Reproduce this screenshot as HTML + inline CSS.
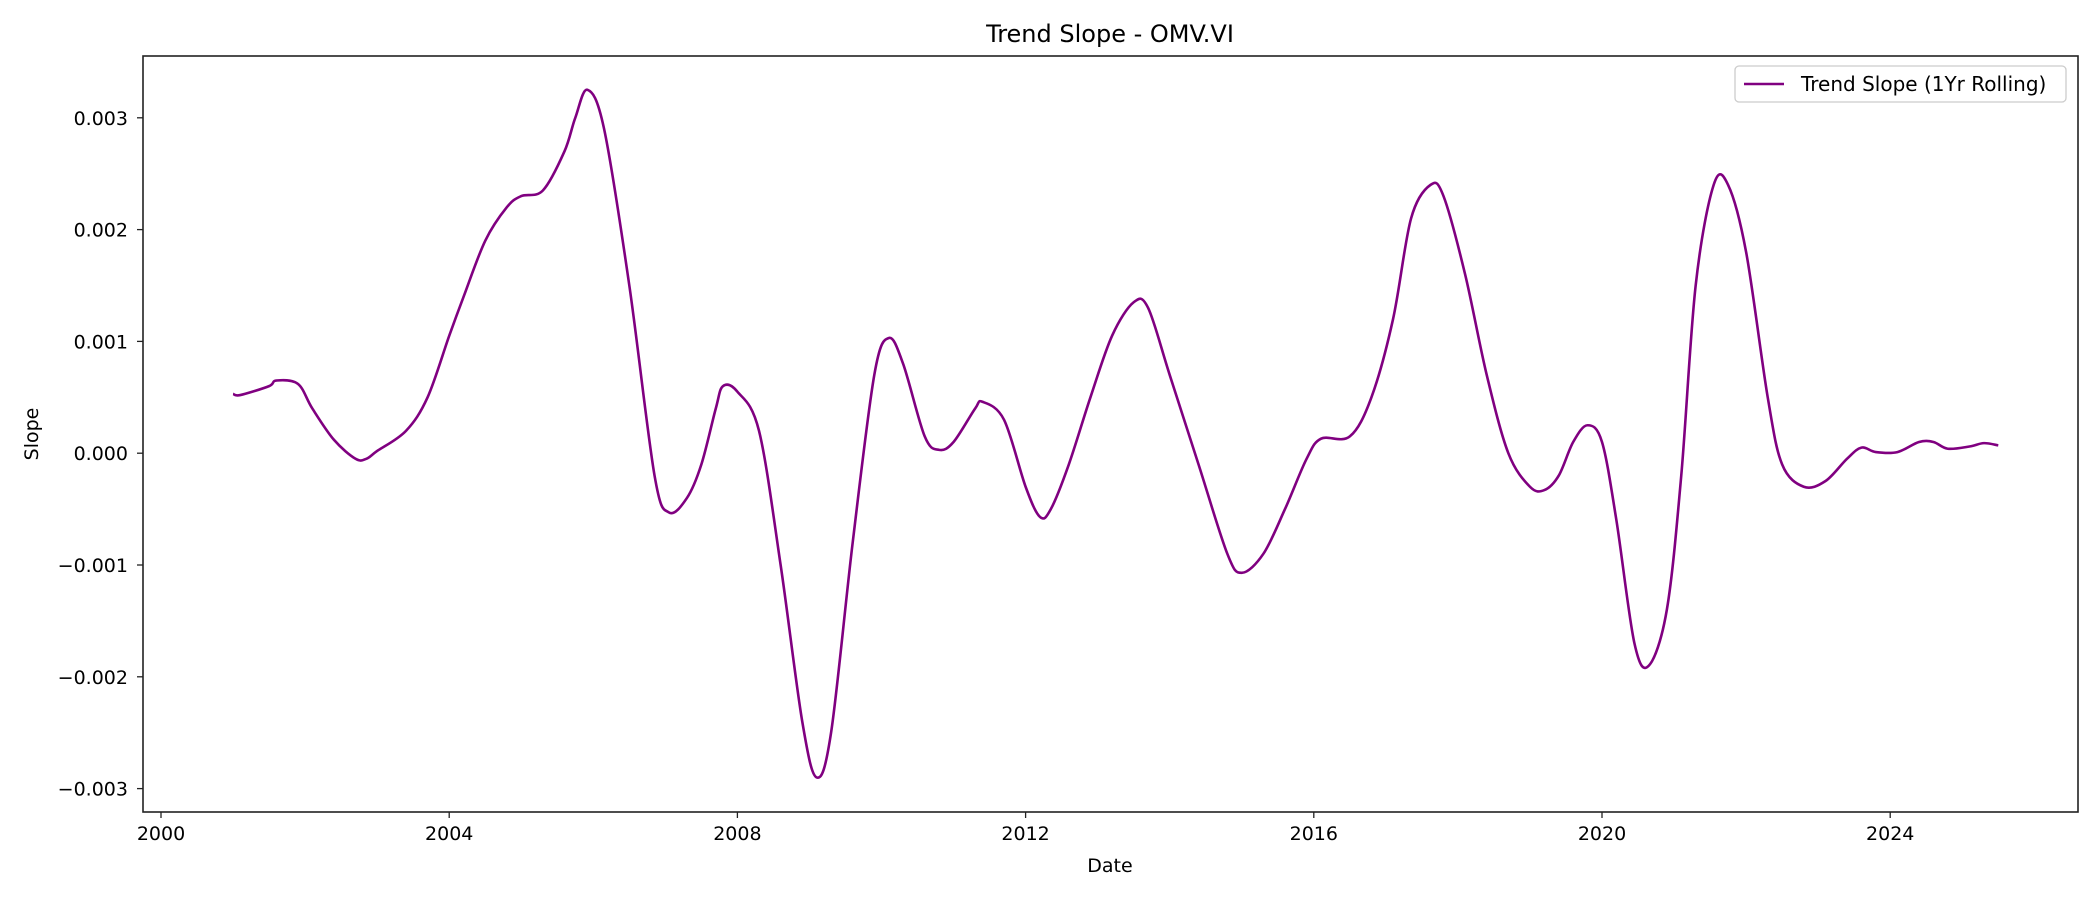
<!DOCTYPE html>
<html><head><meta charset="utf-8"><style>
body{margin:0;background:#fff;}
svg{display:block;font-family:"DejaVu Sans","Liberation Sans",sans-serif;}
</style></head><body>
<svg id="chart" width="2100" height="900" viewBox="0 0 2100 900">
<text x="1110" y="42" font-size="24" text-anchor="middle">Trend Slope - OMV.VI</text>
<g id="axes"></g>
<path id="line" fill="none" stroke="#800080" stroke-width="2.6"></path>
<rect x="143" y="56" width="1935" height="756" fill="none" stroke="#222" stroke-width="1.6"/>
<text x="1110" y="872" font-size="19" text-anchor="middle">Date</text>
<text x="38" y="434" font-size="19" text-anchor="middle" transform="rotate(-90 38 434)">Slope</text>
<g>
<rect x="1735" y="66" width="331" height="36" rx="4" fill="#fff" stroke="#ccc" stroke-width="1.3"/>
<line x1="1744" y1="84" x2="1784" y2="84" stroke="#800080" stroke-width="2.6"/>
<text x="1801" y="91" font-size="20">Trend Slope (1Yr Rolling)</text>
</g>
</svg>
<script>
const years=[2001.0,2001.1,2001.5,2001.6,2001.9,2002.1,2002.4,2002.7,2002.85,2003.0,2003.4,2003.7,2004.0,2004.2,2004.5,2004.8,2005.0,2005.3,2005.6,2005.75,2005.92,2006.15,2006.5,2006.85,2007.05,2007.3,2007.5,2007.7,2007.8,2008.0,2008.3,2008.6,2008.9,2009.1,2009.3,2009.6,2009.9,2010.1,2010.3,2010.6,2010.8,2011.0,2011.3,2011.4,2011.7,2012.0,2012.2,2012.35,2012.6,2012.9,2013.2,2013.5,2013.7,2014.0,2014.4,2014.8,2015.0,2015.3,2015.6,2015.9,2016.1,2016.5,2016.8,2017.1,2017.35,2017.62,2017.8,2018.1,2018.4,2018.7,2019.0,2019.2,2019.4,2019.6,2019.8,2020.0,2020.2,2020.45,2020.65,2020.9,2021.1,2021.3,2021.55,2021.75,2022.0,2022.3,2022.5,2022.8,2023.1,2023.4,2023.6,2023.8,2024.1,2024.4,2024.6,2024.8,2025.1,2025.3,2025.5];
const slopes=[0.00053,0.00052,0.0006,0.00065,0.00062,0.0004,0.00012,-0.00005,-0.00005,0.00002,0.0002,0.0005,0.00105,0.0014,0.0019,0.0022,0.0023,0.00235,0.0027,0.003,0.00325,0.0029,0.0015,-0.0002,-0.00053,-0.0004,-0.0001,0.0004,0.0006,0.00055,0.0002,-0.001,-0.0024,-0.0029,-0.0025,-0.0008,0.0007,0.00103,0.0008,0.00015,0.00003,0.0001,0.0004,0.00046,0.0003,-0.0003,-0.00057,-0.0005,-0.0001,0.0005,0.00105,0.00135,0.0013,0.0007,-0.0001,-0.0009,-0.00107,-0.0009,-0.0005,-0.00005,0.00013,0.00015,0.0005,0.0012,0.0021,0.0024,0.0023,0.0016,0.0007,0.0,-0.0003,-0.00033,-0.0002,0.0001,0.00025,0.0001,-0.0006,-0.0017,-0.0019,-0.0014,-0.0002,0.0015,0.0024,0.0024,0.0018,0.0005,-0.0001,-0.0003,-0.00025,-0.00005,0.00005,0.00001,0.00001,0.0001,0.0001,0.00004,0.00006,0.00009,0.00007];
const xTicks=[2000,2004,2008,2012,2016,2020,2024];
const yTicks=[-0.003,-0.002,-0.001,0,0.001,0.002,0.003];
const yTickLabels=["\u22120.003","\u22120.002","\u22120.001","0.000","0.001","0.002","0.003"];
const xs=y=>161+(y-2000)*72.05;
const ys=v=>453.2-v*111800;
const NS="http://www.w3.org/2000/svg";
const axes=document.getElementById('axes');
xTicks.forEach(t=>{
  const l=document.createElementNS(NS,'line');
  l.setAttribute('x1',xs(t));l.setAttribute('x2',xs(t));l.setAttribute('y1',812);l.setAttribute('y2',818);
  l.setAttribute('stroke','#222');l.setAttribute('stroke-width','1.3');
  
  
  axes.appendChild(l);
  const tx=document.createElementNS(NS,'text');
  tx.setAttribute('x',xs(t));tx.setAttribute('y',840);tx.setAttribute('font-size','19');tx.setAttribute('text-anchor','middle');
  tx.textContent=t;
  
  
  axes.appendChild(tx);
});
yTicks.forEach((t,i)=>{
  const l=document.createElementNS(NS,'line');
  l.setAttribute('x1',137);l.setAttribute('x2',143);l.setAttribute('y1',ys(t));l.setAttribute('y2',ys(t));
  l.setAttribute('stroke','#222');l.setAttribute('stroke-width','1.3');
  
  
  axes.appendChild(l);
  const tx=document.createElementNS(NS,'text');
  tx.setAttribute('x',128);tx.setAttribute('y',ys(t)+7);tx.setAttribute('font-size','19');tx.setAttribute('text-anchor','end');
  tx.textContent=yTickLabels[i];
  
  
  axes.appendChild(tx);
});
const P=years.map((y,i)=>[xs(y),ys(slopes[i])]);
let d='M'+P[0][0]+','+P[0][1];
for(let i=0;i<P.length-1;i++){
  const p0=P[Math.max(0,i-1)],p1=P[i],p2=P[i+1],p3=P[Math.min(P.length-1,i+2)];
  const c1=[p1[0]+(p2[0]-p0[0])/6,p1[1]+(p2[1]-p0[1])/6];
  const c2=[p2[0]-(p3[0]-p1[0])/6,p2[1]-(p3[1]-p1[1])/6];
  d+=' C'+c1[0]+','+c1[1]+' '+c2[0]+','+c2[1]+' '+p2[0]+','+p2[1];
}
document.getElementById('line').setAttribute('d',d);
</script>
</body></html>
